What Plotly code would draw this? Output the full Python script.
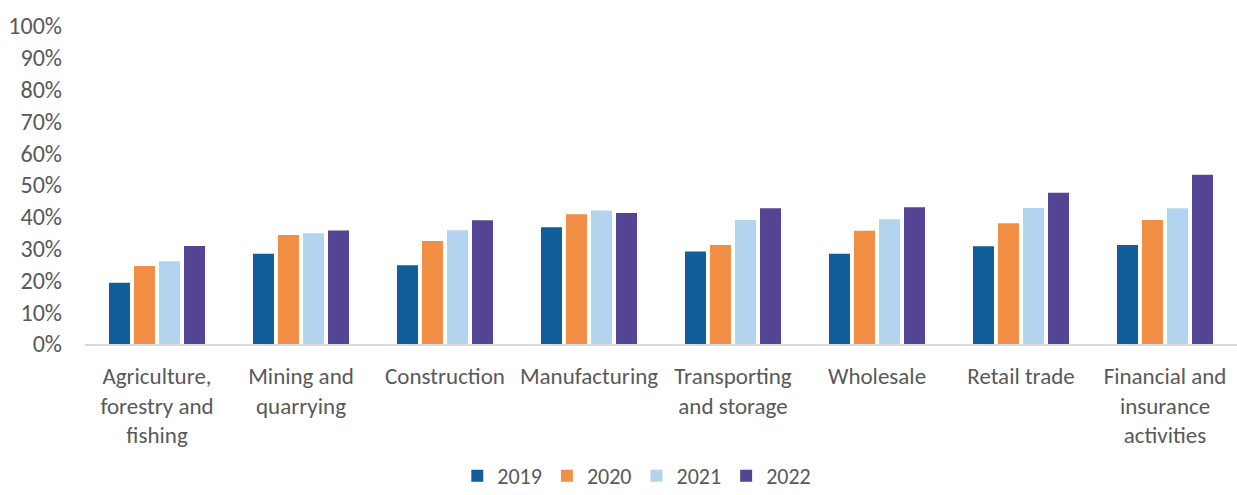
import plotly.graph_objects as go

categories = [
    "Agriculture,<br>forestry and<br>fishing",
    "Mining and<br>quarrying",
    "Construction",
    "Manufacturing",
    "Transporting<br>and storage",
    "Wholesale",
    "Retail trade",
    "Financial and<br>insurance<br>activities",
]

years = ["2019", "2020", "2021", "2022"]
v2019 = [0.193, 0.284, 0.248, 0.367, 0.291, 0.284, 0.307, 0.311]
v2020 = [0.245, 0.343, 0.324, 0.408, 0.311, 0.356, 0.380, 0.390]
v2021 = [0.260, 0.348, 0.358, 0.420, 0.390, 0.392, 0.428, 0.427]
v2022 = [0.308, 0.357, 0.389, 0.412, 0.427, 0.430, 0.476, 0.532]

colors = ["#115E99", "#F19045", "#B3D4EE", "#544594"]
series = [v2019, v2020, v2021, v2022]

FONT = "Carlito, Lato, sans-serif"
GREY = "#595959"
SIZE = 23

fig = go.Figure()
for name, vals, col in zip(years, series, colors):
    fig.add_trace(go.Bar(
        x=categories, y=vals, name=name,
        marker=dict(color=col, line=dict(width=0)),
    ))

fig.update_layout(
    width=1237, height=495,
    margin=dict(l=85, r=0, t=26, b=151, autoexpand=False),
    paper_bgcolor="white", plot_bgcolor="white",
    barmode="group", bargap=0.305, bargroupgap=0.16,
    font=dict(family=FONT, size=SIZE, color=GREY),
    showlegend=True,
    legend=dict(
        orientation="h", x=0.479, xanchor="center",
        y=-0.415, yanchor="middle",
        font=dict(family=FONT, size=22, color=GREY),
        itemwidth=30, traceorder="normal",
    ),
)

fig.update_yaxes(
    range=[0, 1], tickvals=[i / 10 for i in range(11)],
    tickformat=".0%", showgrid=False, zeroline=False,
    showline=False, ticks="", ticklabelstandoff=22,
    automargin=False,
    tickfont=dict(family=FONT, size=24, color=GREY),
)
fig.update_xaxes(
    showgrid=False, showline=True, linecolor="#D9D9D9", linewidth=2,
    ticks="", tickangle=0, automargin=False, ticklabelstandoff=10,
    tickfont=dict(family=FONT, size=SIZE, color=GREY),
)

fig.write_html("out.html")
